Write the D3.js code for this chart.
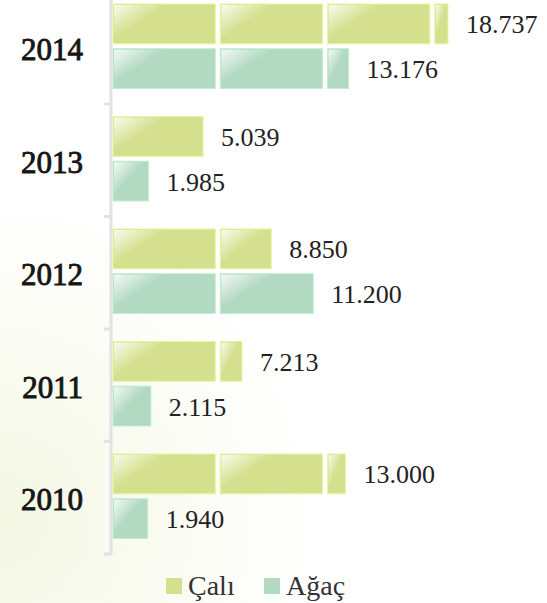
<!DOCTYPE html>
<html>
<head>
<meta charset="utf-8">
<script src="https://cdn.jsdelivr.net/npm/d3@7"></script>
<style>
  html, body { margin: 0; padding: 0; background: #fff; }
  svg { display: block; }
</style>
</head>
<body>
<div id="chart"></div>
<script>
// data
const years = ["2014", "2013", "2012", "2011", "2010"];
const series = ["Çalı", "Ağaç"];
const caliValues = [18737, 5039, 8850, 7213, 13000];
const agacValues = [13176, 1985, 11200, 2115, 1940];
const valueLabels = {
  "Çalı": ["18.737", "5.039", "8.850", "7.213", "13.000"],
  "Ağaç": ["13.176", "1.985", "11.200", "2.115", "1.940"]
};
const colors = { "Çalı": "#d4e08e", "Ağaç": "#b2d9c1" };

const width = 547, height = 603;
const tileUnit = 6000; // each picture tile in the bar stands for 6000

const svg = d3.select("#chart").append("svg")
  .attr("width", width)
  .attr("height", height);

const defs = svg.append("defs");

// faint green glow in the lower left
const bg = defs.append("radialGradient")
  .attr("id", "bg")
  .attr("gradientUnits", "userSpaceOnUse")
  .attr("cx", 0).attr("cy", 520).attr("r", 320);
bg.append("stop").attr("offset", "0%").attr("stop-color", "#f3f7e3");
bg.append("stop").attr("offset", "55%").attr("stop-color", "#fafcf3");
bg.append("stop").attr("offset", "100%").attr("stop-color", "#ffffff");

svg.append("rect")
  .attr("width", width).attr("height", height)
  .attr("fill", "url(#bg)");

// glossy highlight for each bar tile
const gloss = defs.append("linearGradient")
  .attr("id", "gloss")
  .attr("x1", 0).attr("y1", 0).attr("x2", 1).attr("y2", 1);
gloss.append("stop").attr("offset", "0%").attr("stop-color", "#fff").attr("stop-opacity", 0.85);
gloss.append("stop").attr("offset", "45%").attr("stop-color", "#fff").attr("stop-opacity", 0);

const x = d3.scaleLinear()
  .domain([0, 18737])
  .range([113, 448]);

const y = d3.scaleBand()
  .domain(years)
  .range([-8.5, 554]);

const ySub = d3.scaleBand()
  .domain(series)
  .range([12.5, 97])
  .paddingInner(0.11);

// axis on the left
const axisX = 111;
svg.append("line")
  .attr("x1", axisX).attr("x2", axisX)
  .attr("y1", y.range()[0]).attr("y2", y.range()[1] + 1)
  .attr("stroke", "#e2e2e2")
  .attr("stroke-width", 3);

const tickPos = years.map(d => y(d) + y.bandwidth());
svg.selectAll("line.tick")
  .data(tickPos)
  .enter().append("line")
  .attr("class", "tick")
  .attr("x1", axisX - 7).attr("x2", axisX)
  .attr("y1", d => d).attr("y2", d => d)
  .attr("stroke", "#e2e2e2")
  .attr("stroke-width", 3);

// year labels
svg.selectAll("text.year")
  .data(years)
  .enter().append("text")
  .attr("class", "year")
  .attr("x", 83)
  .attr("y", d => y(d) + y.bandwidth() / 2 + 2)
  .attr("text-anchor", "end")
  .attr("dominant-baseline", "central")
  .style("font-family", "'Liberation Serif', serif")
  .style("font-size", "31px")
  .style("fill", "#161616")
  .style("stroke", "#161616")
  .style("stroke-width", "0.9px")
  .text(d => d);

// build bar records
const bars = [];
years.forEach((yr, i) => {
  bars.push({ year: yr, s: "Çalı", value: caliValues[i], label: valueLabels["Çalı"][i] });
  bars.push({ year: yr, s: "Ağaç", value: agacValues[i], label: valueLabels["Ağaç"][i] });
});

// split each bar into tiles
const tileW = x(tileUnit) - x(0);
const gap = 5;
const tiles = [];
bars.forEach(b => {
  const end = x(b.value);
  for (let t = 0; t * tileUnit < b.value; t++) {
    const x0 = x(t * tileUnit);
    const x1 = Math.min(end, x0 + tileW - gap);
    if (x1 - x0 < 1) continue;
    tiles.push({ b: b, x0: x0, w: x1 - x0 });
  }
});

const barG = svg.append("g");
const tileG = barG.selectAll("g.tile")
  .data(tiles)
  .enter().append("g")
  .attr("class", "tile")
  .attr("transform", d => `translate(${d.x0},${y(d.b.year) + ySub(d.b.s)})`);

tileG.append("rect")
  .attr("width", d => d.w)
  .attr("height", ySub.bandwidth())
  .attr("fill", d => colors[d.b.s])
  .attr("stroke", d => d3.color(colors[d.b.s]).brighter(0.25))
  .attr("stroke-width", 1);

tileG.append("rect")
  .attr("x", 1).attr("y", 1)
  .attr("width", d => Math.max(0, Math.min(d.w, 60) - 2))
  .attr("height", ySub.bandwidth() - 2)
  .attr("fill", "url(#gloss)");

// value labels
svg.selectAll("text.value")
  .data(bars)
  .enter().append("text")
  .attr("class", "value")
  .attr("x", d => x(d.value) + 18)
  .attr("y", d => y(d.year) + ySub(d.s) + ySub.bandwidth() / 2 + 1)
  .attr("dominant-baseline", "central")
  .style("font-family", "'Liberation Serif', serif")
  .style("font-size", "26px")
  .style("fill", "#222")
  .text(d => d.label);

// legend
const legendX = [166, 264];
const legend = svg.selectAll("g.legend")
  .data(series)
  .enter().append("g")
  .attr("class", "legend")
  .attr("transform", (d, i) => `translate(${legendX[i]},578)`);

legend.append("rect")
  .attr("width", 16).attr("height", 16)
  .attr("fill", d => colors[d]);

legend.append("text")
  .attr("x", 22)
  .attr("y", 17)
  .style("font-family", "'Liberation Serif', serif")
  .style("font-size", "28px")
  .style("fill", "#333")
  .text(d => d);
</script>
</body>
</html>
